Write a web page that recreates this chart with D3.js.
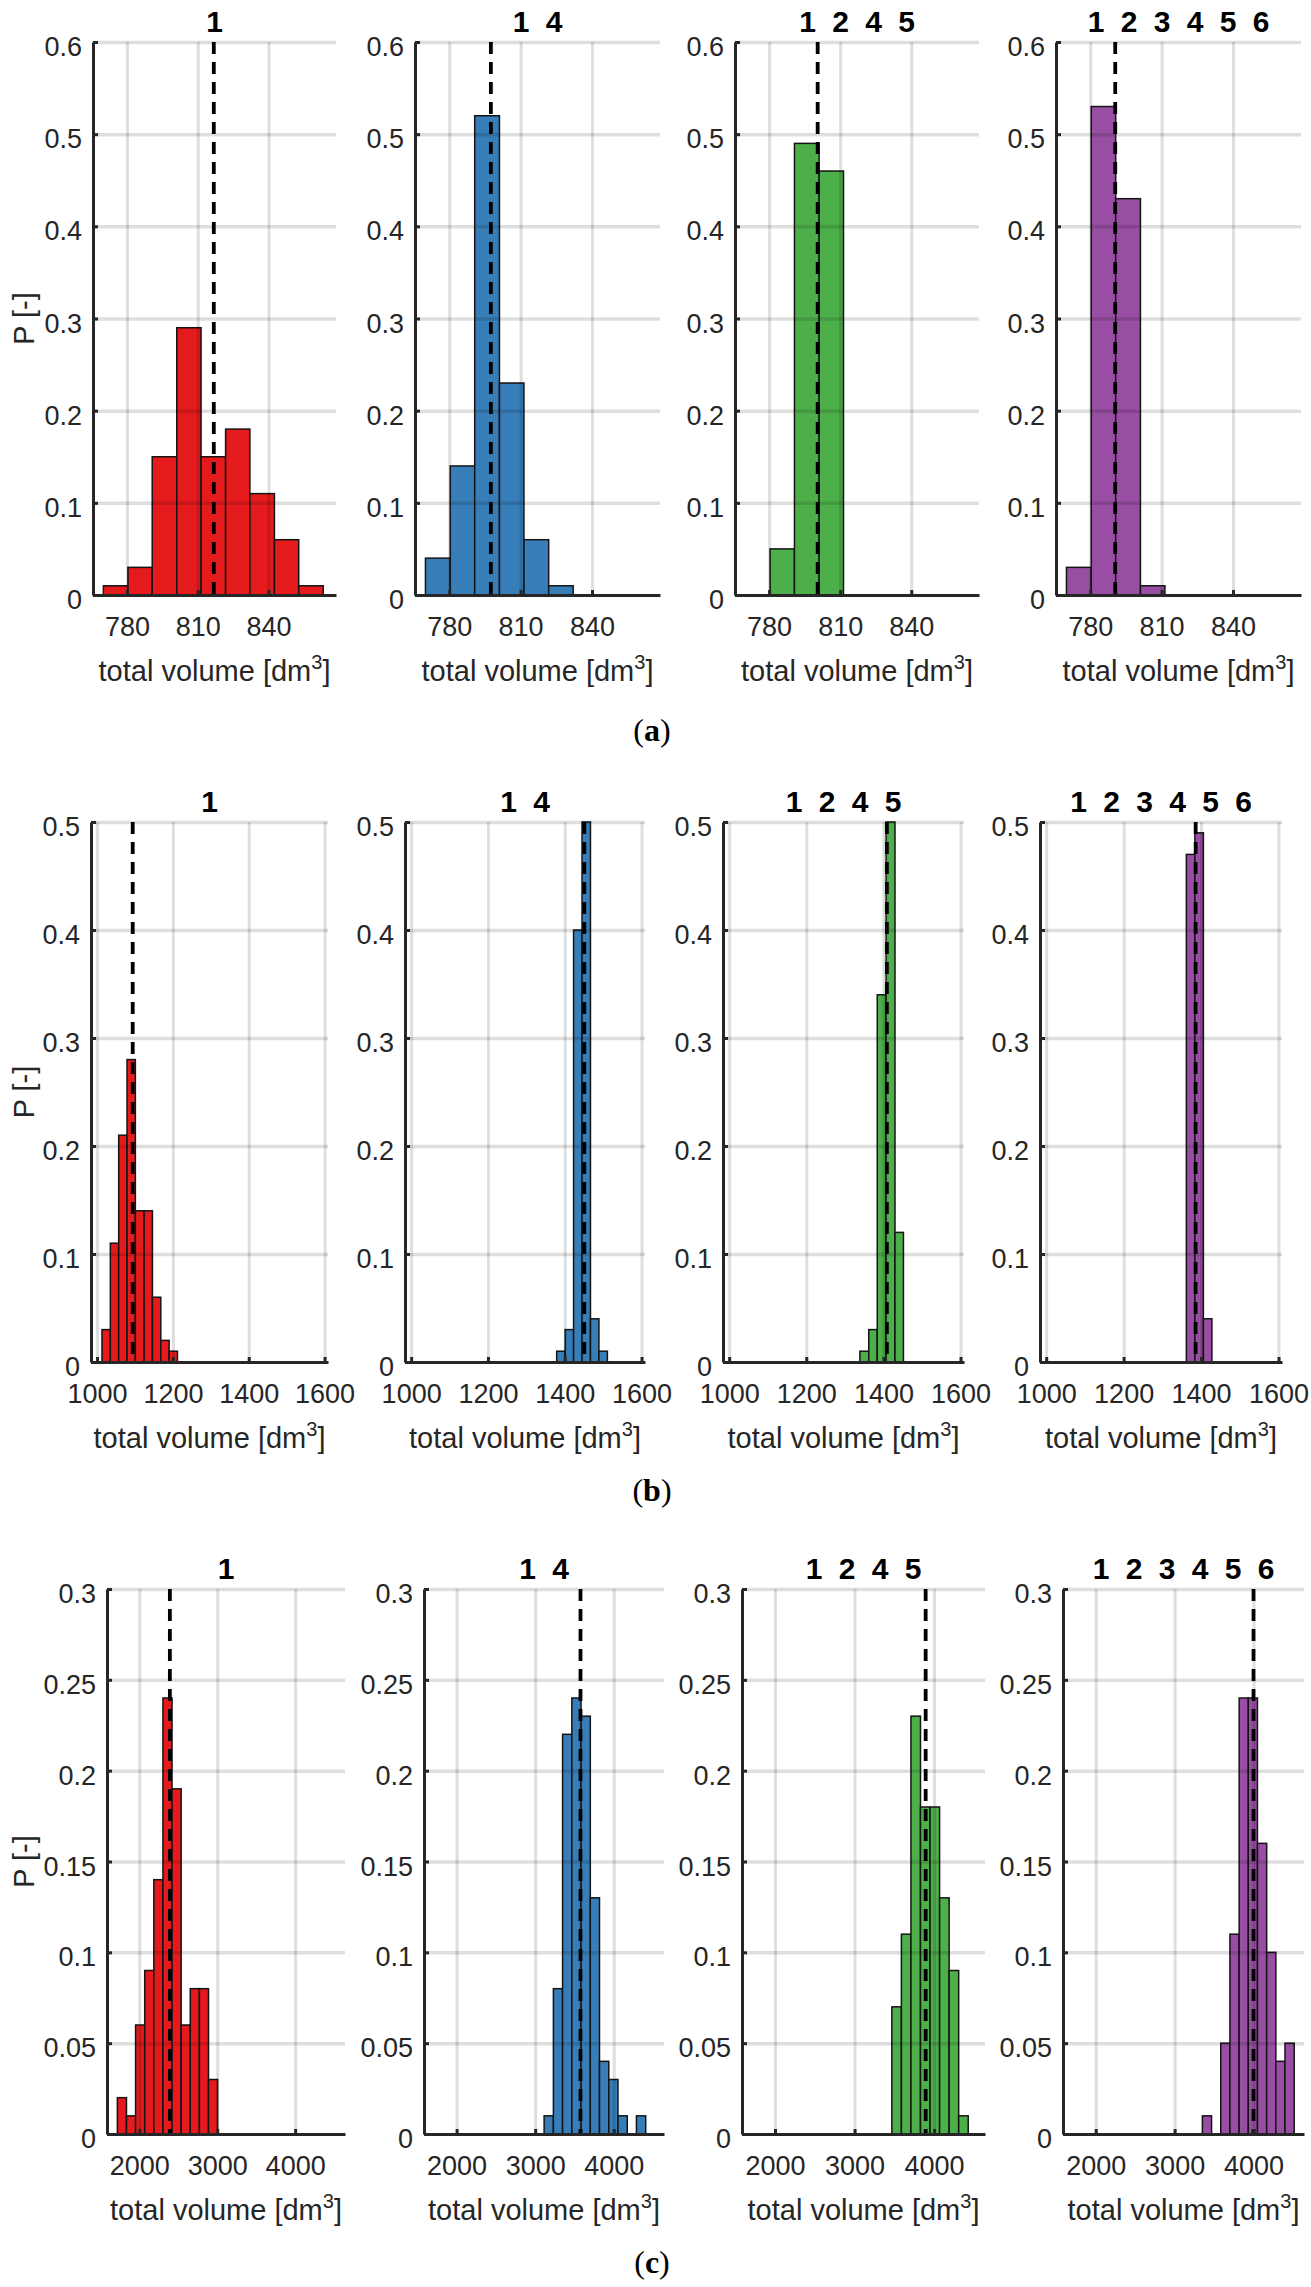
<!DOCTYPE html>
<html lang="en">
<head>
<meta charset="utf-8">
<title>Total volume histograms</title>
<style>
  body { margin: 0; background: #fff; }
  text { font-family: "Liberation Sans", Arial, sans-serif; }
  .tick text { fill: #262626; }
  .caption { font-family: "Liberation Serif", "DejaVu Serif", serif; }
</style>
<script src="https://cdn.jsdelivr.net/npm/d3@7/dist/d3.min.js"></script>
</head>
<body>
<script>
// ---- data ----
const panelTitles = [["1"], ["1", "4"], ["1", "2", "4", "5"], ["1", "2", "3", "4", "5", "6"]];
const seriesColors = ["#e41a1c", "#377eb8", "#4daf4a", "#984ea3"];
const rowCaptions = ["a", "b", "c"];

// row (a)
const xTicksA = [780, 810, 840];
const yTicksA = [0, 0.1, 0.2, 0.3, 0.4, 0.5, 0.6];
const xDomainA = [765.6, 868.6];
const edgesA = [
  [770.0, 780.4, 790.7, 801.1, 811.4, 821.8, 832.1, 842.5, 852.8, 863.2],
  [770.0, 780.4, 790.7, 801.1, 811.4, 821.8, 832.1],
  [780.4, 790.7, 801.1, 811.4],
  [770.0, 780.4, 790.7, 801.1, 811.4]
];
const probA = [
  [0.01, 0.03, 0.15, 0.29, 0.15, 0.18, 0.11, 0.06, 0.01],
  [0.04, 0.14, 0.52, 0.23, 0.06, 0.01],
  [0.05, 0.49, 0.46],
  [0.03, 0.53, 0.43, 0.01]
];
const meanA = [816.8, 797.5, 800.5, 790.5];

// row (b)
const xTicksB = [1000, 1200, 1400, 1600];
const yTicksB = [0, 0.1, 0.2, 0.3, 0.4, 0.5];
const xDomainB = [984, 1609];
const edgesB = [
  [1013, 1035, 1057, 1079, 1101, 1124, 1146, 1168, 1190, 1212],
  [1379, 1401, 1423, 1445, 1467, 1489, 1511],
  [1339, 1362, 1384, 1407, 1430, 1452],
  [1362, 1384, 1406, 1428]
];
const probB = [
  [0.03, 0.11, 0.21, 0.28, 0.14, 0.14, 0.06, 0.02, 0.01],
  [0.01, 0.03, 0.40, 0.50, 0.04, 0.01],
  [0.01, 0.03, 0.34, 0.50, 0.12],
  [0.47, 0.49, 0.04]
];
const meanB = [1094, 1451, 1409, 1386];

// row (c)
const xTicksC = [2000, 3000, 4000];
const yTicksC = [0, 0.05, 0.1, 0.15, 0.2, 0.25, 0.3];
const xDomainC = [1585, 4640];
const edgesC = [
  [1718, 1835, 1952, 2069, 2186, 2303, 2420, 2537, 2654, 2771, 2888, 3005],
  [3114, 3232, 3349, 3467, 3584, 3702, 3819, 3937, 4054, 4172, 4289, 4407],
  [3469, 3589, 3709, 3829, 3949, 4069, 4189, 4309, 4429],
  [3352, 3468, 3585, 3701, 3818, 3934, 4050, 4167, 4283, 4399, 4516]
];
const probC = [
  [0.02, 0.01, 0.06, 0.09, 0.14, 0.24, 0.19, 0.06, 0.08, 0.08, 0.03],
  [0.01, 0.08, 0.22, 0.24, 0.23, 0.13, 0.04, 0.03, 0.01, 0, 0.01],
  [0.07, 0.11, 0.23, 0.18, 0.18, 0.13, 0.09, 0.01],
  [0.01, 0, 0.05, 0.11, 0.24, 0.24, 0.16, 0.10, 0.04, 0.05]
];
const meanC = [2392, 3577, 3894, 4000];

const rowData = [
  { xTicks: xTicksA, yTicks: yTicksA, xDomain: xDomainA, edges: edgesA, prob: probA, mean: meanA },
  { xTicks: xTicksB, yTicks: yTicksB, xDomain: xDomainB, edges: edgesB, prob: probB, mean: meanB },
  { xTicks: xTicksC, yTicks: yTicksC, xDomain: xDomainC, edges: edgesC, prob: probC, mean: meanC }
];

// ---- layout (pixels) ----
const layout = [
  { top: 42, bottom: 595, cols: [[93, 336], [415, 660], [735, 979], [1056, 1301]], caption: 741 },
  { top: 822, bottom: 1362, cols: [[91, 328], [405, 645], [723, 964], [1040, 1282]], caption: 1501 },
  { top: 1589, bottom: 2134, cols: [[107, 345], [424, 664], [742, 985], [1063, 1304]], caption: 2273 }
];
const tickFont = 27, labelFont = 29, titleFont = 30;
const gridColor = "rgba(0,0,0,0.13)";
const axisColor = "#262626";

const svg = d3.select("body").append("svg")
    .attr("width", 1311)
    .attr("height", 2287);

rowData.forEach((row, r) => {
    const L = layout[r];
    const y = d3.scaleLinear()
        .domain([0, d3.max(row.yTicks)])
        .range([L.bottom, L.top]);

    L.cols.forEach((col, p) => {
        const x = d3.scaleLinear().domain(row.xDomain).range(col);
        const g = svg.append("g");

        // bars
        const bins = row.prob[p].map((v, i) => ({ x0: row.edges[p][i], x1: row.edges[p][i + 1], v: v }))
            .filter(d => d.v > 0);
        g.selectAll("rect.bar").data(bins).enter().append("rect")
            .attr("class", "bar")
            .attr("x", d => x(d.x0))
            .attr("width", d => x(d.x1) - x(d.x0))
            .attr("y", d => y(d.v))
            .attr("height", d => y(0) - y(d.v))
            .attr("fill", seriesColors[p])
            .attr("stroke", "#141414")
            .attr("stroke-width", 1.5);

        // grid drawn over the bars, semi-transparent
        g.append("g")
            .attr("transform", "translate(0," + L.bottom + ")")
            .call(d3.axisBottom(x).tickValues(row.xTicks).tickSize(-(L.bottom - L.top)).tickFormat(""))
            .call(a => a.select(".domain").remove())
            .selectAll("line").attr("stroke", gridColor).attr("stroke-width", 3);
        g.append("g")
            .attr("transform", "translate(" + col[0] + ",0)")
            .call(d3.axisLeft(y).tickValues(row.yTicks.filter(t => t > 0)).tickSize(-(col[1] - col[0])).tickFormat(""))
            .call(a => a.select(".domain").remove())
            .selectAll("line").attr("stroke", gridColor).attr("stroke-width", 3.5);

        // mean line
        g.append("line")
            .attr("x1", x(row.mean[p])).attr("x2", x(row.mean[p]))
            .attr("y1", L.top).attr("y2", L.bottom)
            .attr("stroke", "#000")
            .attr("stroke-width", 3.8)
            .attr("stroke-dasharray", "12,8");

        // axes
        const xa = g.append("g")
            .attr("transform", "translate(0," + L.bottom + ")")
            .call(d3.axisBottom(x).tickValues(row.xTicks).tickSizeInner(-5).tickSizeOuter(0).tickPadding(22)
                .tickFormat(d3.format("d")));
        const ya = g.append("g")
            .attr("transform", "translate(" + col[0] + ",0)")
            .call(d3.axisLeft(y).tickValues(row.yTicks).tickSizeInner(-5).tickSizeOuter(0).tickPadding(11)
                .tickFormat(d => String(d)));
        [xa, ya].forEach(a => {
            a.attr("font-size", null).attr("font-family", null);
            a.select(".domain").attr("stroke", axisColor).attr("stroke-width", 3);
            a.selectAll(".tick line").attr("stroke", axisColor).attr("stroke-width", 3);
            a.selectAll(".tick text").attr("font-size", tickFont);
        });
        ya.selectAll(".tick text").attr("dy", "0.5em");

        // title
        const labels = panelTitles[p];
        const cx = (col[0] + col[1]) / 2;
        g.selectAll("text.title").data(labels).enter().append("text")
            .attr("class", "title")
            .attr("x", (d, i) => cx + (i - (labels.length - 1) / 2) * 33)
            .attr("y", L.top - 10)
            .attr("text-anchor", "middle")
            .attr("font-weight", "bold")
            .attr("font-size", titleFont)
            .attr("fill", "#000")
            .text(d => d);

        // x label
        const xl = g.append("text")
            .attr("x", cx)
            .attr("y", L.bottom + 86)
            .attr("text-anchor", "middle")
            .attr("font-size", labelFont)
            .attr("fill", axisColor)
            .text("total volume [dm");
        xl.append("tspan").attr("font-size", 20).attr("dy", -12).text("3");
        xl.append("tspan").attr("dy", 12).text("]");

        // y label on first panel
        if (p === 0) {
            g.append("text")
                .attr("transform", "translate(34," + ((L.top + L.bottom) / 2) + ") rotate(-90)")
                .attr("text-anchor", "middle")
                .attr("font-size", labelFont)
                .attr("fill", axisColor)
                .text("P [-]");
        }
    });

    // sub-caption
    const cap = svg.append("text")
        .attr("class", "caption")
        .attr("x", 652)
        .attr("y", L.caption)
        .attr("text-anchor", "middle")
        .attr("font-size", 32)
        .attr("fill", "#000")
        .text("(");
    cap.append("tspan").attr("font-weight", "bold").text(rowCaptions[r]);
    cap.append("tspan").text(")");
});
</script>
</body>
</html>
